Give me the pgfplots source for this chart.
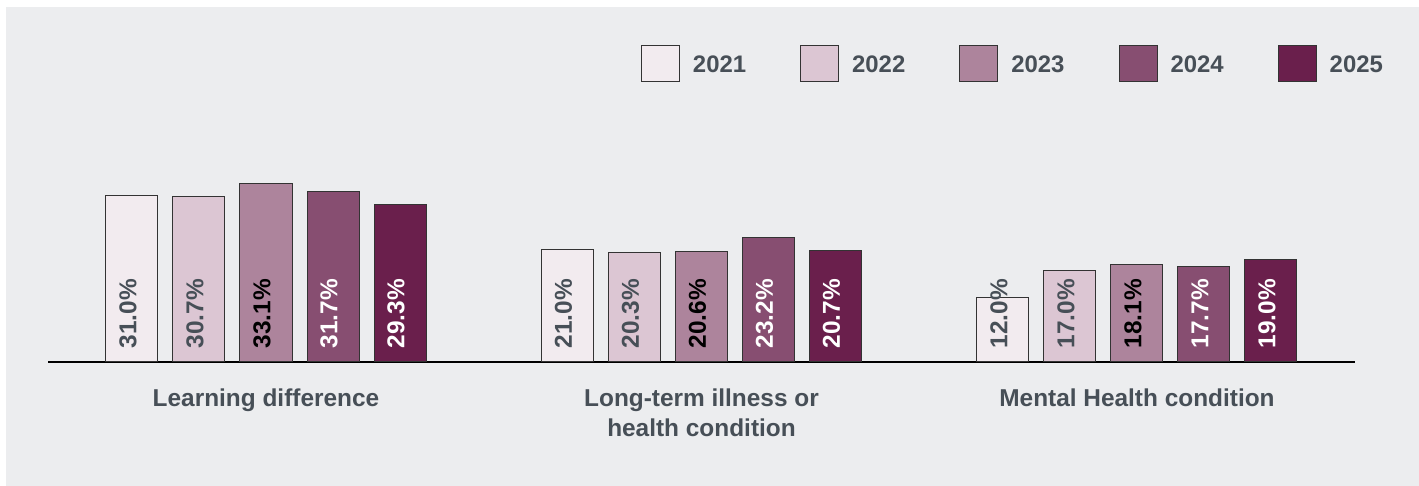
\documentclass[border=0pt]{standalone}
\usepackage{fontspec}
\setmainfont{Liberation Sans}
\usepackage{pgfplots}
\pgfplotsset{compat=1.18}
\definecolor{bg}{HTML}{ECEDEF}
\definecolor{cA}{HTML}{F2EBEF}
\definecolor{cB}{HTML}{DCC6D3}
\definecolor{cC}{HTML}{AD849C}
\definecolor{cD}{HTML}{874E71}
\definecolor{cE}{HTML}{6A1F4C}
\definecolor{tgray}{HTML}{474F57}
\definecolor{outl}{HTML}{333333}
\pgfplotsset{lg/.style={legend image code/.code={\draw[##1] (0bp,-9.5bp) rectangle (38bp,26.5bp);}}}
\begin{document}
\begin{tikzpicture}[x=1bp,y=1bp]
\path[use as bounding box] (0,0) rectangle (1419,486);
\fill[bg] (6,0) rectangle (1419,479);
\begin{axis}[
  at={(48.25bp,124bp)}, anchor=south west,
  scale only axis, width=1306.5bp, height=322.8bp,
  xmin=-0.5, xmax=2.5, ymin=0, ymax=60,
  ybar=15bp, bar width=52bp,
  axis y line=none, axis x line*=bottom,
  x axis line style={-, line width=1.6bp, black},
  xtick={0,1,2},
  xticklabels={Learning difference,{Long-term illness or\\health condition},Mental Health condition},
  major tick length=0pt,
  xticklabel style={font=\fontsize{24.5}{30}\selectfont\bfseries, text=tgray, align=center, yshift=-23bp},
  ytick=\empty,
  clip=false,
  visualization depends on={y \as \rawy},
  nodes near coords={\pgfmathprintnumber[fixed,fixed zerofill,precision=1]{\pgfplotspointmeta}\%},
  /pgf/number format/assume math mode=true,
  every node near coord/.append style={font=\fontsize{24.5}{29}\selectfont\bfseries, inner sep=0pt, xshift=-4bp, yshift={(13-\rawy*5.38)*1bp}, rotate=90, anchor=west},
  legend columns=5,
  legend style={at={(axis cs:0.861,58.9)}, anchor=north west, draw=none, fill=none, inner sep=0pt, outer sep=0pt,
    font=\fontsize{24}{29}\selectfont\bfseries, text=tgray, cells={anchor=base west}, nodes={inner sep=0pt},
    /tikz/every odd column/.append style={column sep=13bp},
    /tikz/every even column/.append style={column sep=54bp}},
]
\addplot[fill=cA, draw=outl, line width=1bp, lg, every node near coord/.append style={text=tgray}] coordinates {(0,31.0) (1,21.0) (2,12.0)};
\addplot[fill=cB, draw=outl, line width=1bp, lg, every node near coord/.append style={text=tgray}] coordinates {(0,30.7) (1,20.3) (2,17.0)};
\addplot[fill=cC, draw=outl, line width=1bp, lg, every node near coord/.append style={text=black}] coordinates {(0,33.1) (1,20.6) (2,18.1)};
\addplot[fill=cD, draw=outl, line width=1bp, lg, every node near coord/.append style={text=white}] coordinates {(0,31.7) (1,23.2) (2,17.7)};
\addplot[fill=cE, draw=outl, line width=1bp, lg, every node near coord/.append style={text=white}] coordinates {(0,29.3) (1,20.7) (2,19.0)};
\legend{2021,2022,2023,2024,2025}
\end{axis}
\end{tikzpicture}
\end{document}
